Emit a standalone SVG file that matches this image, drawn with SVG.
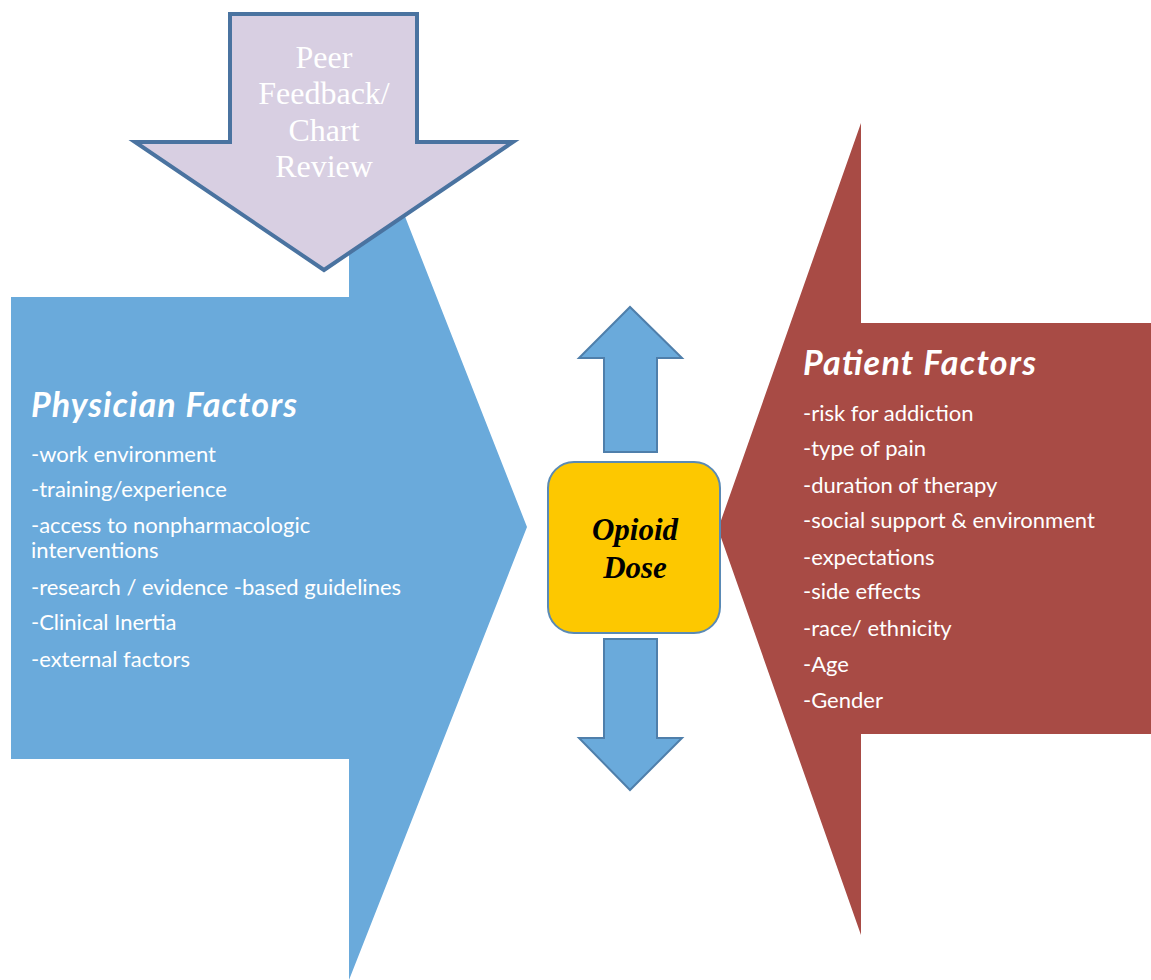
<svg xmlns="http://www.w3.org/2000/svg" width="1151" height="980" viewBox="0 0 1151 980">
<style>
.item{font-family:Lato,"Open Sans",sans-serif;font-size:22px;fill:#ffffff}
.title{font-family:Lato,"Open Sans",sans-serif;font-size:34px;font-weight:bold;font-style:italic;fill:#ffffff}
.serif{font-family:"Liberation Serif",serif;font-size:32px;fill:#ffffff;text-anchor:middle}
.dose{font-family:"Liberation Serif",serif;font-size:31px;font-weight:bold;font-style:italic;fill:#000000;text-anchor:middle}
.vert{fill:#6aaadb;stroke:#4f7fab;stroke-width:2}
</style>
<rect width="1151" height="980" fill="#ffffff"/>
<g id="physician">
<polygon points="11,297 349,297 349,74 527,527 349,980 349,759 11,759" fill="#6aaadb"/>
<text class="title" x="31" y="417" textLength="266" lengthAdjust="spacing">Physician Factors</text>
<text class="item" x="31" y="462">-work environment</text>
<text class="item" x="31" y="497">-training/experience</text>
<text class="item" x="31" y="533">-access to nonpharmacologic</text>
<text class="item" x="31" y="558">interventions</text>
<text class="item" x="31" y="595">-research / evidence -based guidelines</text>
<text class="item" x="31" y="630">-Clinical Inertia</text>
<text class="item" x="31" y="667">-external factors</text>
</g>
<g id="patient">
<polygon points="1151,323 861,323 861,123 718,529 861,935 861,734 1151,734" fill="#a84b45"/>
<text class="title" x="803" y="375" textLength="233" lengthAdjust="spacing">Patient Factors</text>
<text class="item" x="803" y="421">-risk for addiction</text>
<text class="item" x="803" y="456">-type of pain</text>
<text class="item" x="803" y="493">-duration of therapy</text>
<text class="item" x="803" y="528">-social support &amp; environment</text>
<text class="item" x="803" y="565">-expectations</text>
<text class="item" x="803" y="599">-side effects</text>
<text class="item" x="803" y="636">-race/ ethnicity</text>
<text class="item" x="803" y="672">-Age</text>
<text class="item" x="803" y="708">-Gender</text>
</g>
<g id="peer">
<polygon points="230,14 417,14 417,142 513,142 324,270 135,142 230,142" fill="#d8cfe2" stroke="#4a73a0" stroke-width="4" stroke-linejoin="miter"/>
<text class="serif" x="324" y="68">Peer</text>
<text class="serif" x="324" y="104">Feedback/</text>
<text class="serif" x="324" y="141">Chart</text>
<text class="serif" x="324" y="177">Review</text>
</g>
<g id="connectors">
<polygon class="vert" points="604,452 604,358 579,358 630,307 682,358 657,358 657,452"/>
<polygon class="vert" points="604,639 604,738 579,738 630,790 682,738 657,738 657,639"/>
</g>
<g id="opioid-dose">
<rect x="548" y="462" width="172" height="171" rx="26" ry="26" fill="#fdc800" stroke="#5a8ab5" stroke-width="2"/>
<text class="dose" x="635" y="540">Opioid</text>
<text class="dose" x="635" y="578">Dose</text>
</g>
</svg>
